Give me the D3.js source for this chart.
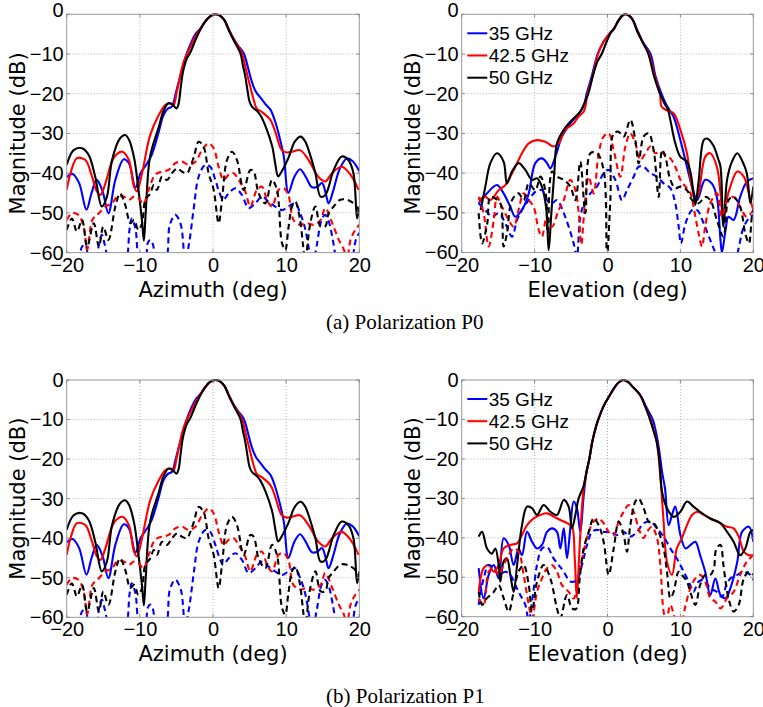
<!DOCTYPE html>
<html><head><meta charset="utf-8">
<script src="https://cdn.jsdelivr.net/npm/d3@7"></script>
<style>body{margin:0;background:#fff}svg{display:block}</style>
</head><body>
<svg id="c" width="763" height="707"></svg>
<script>
// ---------------- data ----------------
const xTicks = [-20, -10, 0, 10, 20];
const yTicks = [0, -10, -20, -30, -40, -50, -60];
const freqLabels = ["35 GHz", "42.5 GHz", "50 GHz"];
const captions = ["(a) Polarization P0", "(b) Polarization P1"];
const xLabels = ["Azimuth (deg)", "Elevation (deg)"];
const yLabel = "Magnitude (dB)";

// Azimuth cuts (identical for P0 and P1) – co-polar (solid)
const azCo35 = [[-20,-41],[-19.2,-40.2],[-18.3,-42.5],[-17.3,-49.2],[-16.6,-45],[-15.9,-41.7],[-15.1,-44.5],[-14.3,-50.1],[-13.35,-41.7],[-12.2,-36.5],[-11.5,-37.5],[-10.6,-43.6],[-9.9,-40],[-9,-37.5],[-8.4,-35.5],[-7.4,-29.5],[-6.8,-25.5],[-6.2,-23.8],[-5.6,-23.2],[-5.17,-20.5],[-4.8,-17.8],[-4.48,-15.7],[-4.0,-12.3],[-3.57,-9.8],[-3.0,-7.2],[-2.4,-5],[-1.74,-3.6],[-1.1,-1.9],[-0.4,-0.5],[0.3,0],[1.0,-0.4],[1.6,-1.6],[2.14,-3.7],[2.7,-5.8],[3.4,-7.8],[4.2,-9.8],[4.7,-12.8],[5.1,-15.7],[5.5,-18],[5.9,-19.6],[6.5,-21],[7.16,-22.6],[7.85,-24],[8.5,-27],[9.1,-31],[9.68,-35.8],[10.3,-45],[11.1,-41],[11.9,-39],[12.7,-41],[13.5,-43.5],[14.2,-43.5],[14.9,-42.5],[15.4,-45],[15.8,-47.6],[16.5,-44],[17.3,-39],[18.3,-36.3],[19.1,-37],[20,-39.5]];
const azCo42 = [[-20,-44.2],[-19.4,-39.5],[-18.6,-36.2],[-17.45,-36.7],[-16.6,-40.5],[-15.9,-44.5],[-15.4,-45.5],[-14.7,-42.5],[-13.9,-37.5],[-13.35,-35.6],[-12.4,-34.6],[-11.5,-36.7],[-10.8,-43.4],[-10.4,-44.6],[-9.7,-40],[-8.6,-30.5],[-7.4,-25.3],[-6.5,-22.8],[-5.9,-22.4],[-5.4,-22.9],[-5.0,-20],[-4.6,-16.5],[-4.2,-13.2],[-3.8,-11],[-3.3,-9],[-2.6,-6.3],[-1.8,-3.8],[-1.1,-1.9],[-0.4,-0.5],[0.3,0],[1.0,-0.4],[1.6,-1.6],[2.14,-3.7],[3.0,-6.8],[3.95,-9.8],[4.4,-13],[4.75,-15.7],[5.2,-19],[5.6,-21.8],[6.0,-23.8],[6.7,-24.6],[7.85,-26.6],[8.5,-29.5],[9.4,-34.2],[10.1,-34.8],[10.8,-34.6],[11.9,-34.2],[13.07,-36.7],[14.4,-40.9],[15.35,-42.1],[16.26,-40],[17.6,-38.4],[18.8,-40.4],[19.9,-44.2]];
const azCo50 = [[-20,-37.9],[-19.05,-34.2],[-17.9,-33.7],[-17,-35.4],[-16.1,-40.9],[-15.2,-48.4],[-14.5,-45.9],[-13.8,-36.7],[-12.7,-31.2],[-12.0,-30.4],[-11.5,-31.5],[-10.8,-36],[-10.2,-44],[-9.7,-52],[-9.45,-57],[-9.2,-50],[-8.6,-35.8],[-7.4,-28.3],[-6.8,-24.5],[-6.1,-22.4],[-5.6,-22.6],[-5.0,-23.7],[-4.7,-22.5],[-4.45,-19],[-4.1,-14.5],[-3.6,-11.2],[-3.1,-9.6],[-2.4,-6.5],[-1.74,-3.9],[-1.1,-1.9],[-0.4,-0.5],[0.3,0],[1.0,-0.4],[1.6,-1.6],[2.14,-3.95],[2.9,-6.8],[3.74,-9.8],[4.1,-13],[4.42,-15.7],[4.7,-19],[5.0,-22],[5.34,-23.3],[6.0,-24.3],[6.5,-25.5],[7.2,-28.3],[8.1,-33.3],[8.5,-37.5],[8.9,-40.8],[9.4,-39.5],[10.3,-36.2],[11.2,-32],[12,-30.8],[12.6,-32],[13.07,-34.2],[14,-40],[14.7,-45.9],[15.35,-45.5],[16.5,-39.2],[17.6,-35.8],[18.5,-36.7],[19.2,-40],[19.7,-51.4],[20,-48.4]];
// Azimuth cuts – cross-polar (dashed)
const azX35 = [[-20,-66],[-18.4,-62],[-17.9,-58.5],[-17.45,-58],[-17.0,-62],[-16.2,-66],[-15.6,-58],[-15.2,-55.5],[-14.8,-58],[-14.3,-62],[-13,-68],[-11.8,-62],[-11.4,-54],[-11.1,-51.4],[-10.6,-54],[-10.0,-62],[-9.3,-62],[-8.9,-57.5],[-8.57,-56.8],[-8.2,-58],[-7.7,-63],[-6.5,-62],[-5.9,-53],[-5.15,-50.5],[-4.4,-53],[-3.8,-62],[-3.3,-58],[-2.6,-48.4],[-1.96,-40.9],[-1.05,-37.9],[-0.37,-38.4],[0.32,-41.7],[0.9,-45],[1.4,-46.7],[2.14,-45.1],[3.05,-43.8],[3.96,-45.5],[4.87,-48.8],[5.78,-47.6],[6.7,-45.9],[7.6,-47.2],[8.5,-48.4],[9.43,-49.3],[10.3,-48.4],[11.25,-47.6],[11.9,-50],[12.6,-54],[13.2,-60],[13.6,-63],[14.2,-58],[14.8,-52],[15.3,-50.5],[15.8,-52],[16.4,-57],[17,-63],[18,-67],[19,-62],[19.5,-57],[20,-55]];
const azX42 = [[-20,-51.8],[-19.3,-50.1],[-18.4,-50.5],[-17.7,-53.4],[-17.2,-59.3],[-16.9,-56],[-16.5,-51.8],[-15.6,-50.1],[-14.7,-48.4],[-13.8,-47.6],[-13.1,-45.9],[-12.2,-45.9],[-11.5,-46.7],[-10.8,-45.9],[-10.2,-46.3],[-9.5,-47.6],[-8.8,-44.2],[-7.9,-40.4],[-7,-39.6],[-6.1,-39.2],[-5.15,-37.5],[-4.24,-37.1],[-3.33,-37.9],[-2.4,-37.1],[-1.5,-34.2],[-0.6,-32.5],[0.09,-33.7],[0.77,-38.4],[1.46,-41.7],[2.14,-40.4],[2.82,-40],[3.5,-41.7],[4.4,-44.6],[5.1,-48.4],[6,-44.2],[6.7,-43.4],[7.38,-46.7],[8.06,-48.4],[8.97,-44.2],[9.66,-43.8],[10.3,-45.5],[11,-51.8],[11.9,-53],[12.8,-52.6],[13.8,-53],[14.7,-51.8],[15.35,-48.8],[16.3,-52.6],[17.2,-56.8],[17.9,-59.3],[18.3,-62],[18.8,-56.8],[19.45,-54.3],[20,-53]];
const azX50 = [[-20,-54.3],[-19.3,-51.4],[-18.6,-54.7],[-17.9,-51.8],[-17.2,-58.5],[-16.3,-52.6],[-15.6,-58.5],[-15,-53.5],[-14.3,-56.8],[-13.35,-48.4],[-12.7,-45.1],[-12,-48],[-11.3,-52.6],[-10.8,-51.8],[-10.2,-54.3],[-9.7,-52.6],[-9.25,-46.7],[-8.57,-45.1],[-8.1,-43],[-7.66,-44.2],[-6.97,-40.9],[-6.3,-41.7],[-5.6,-40],[-4.9,-38.8],[-4.24,-39.6],[-3.56,-40],[-3.1,-38.4],[-2.6,-35.8],[-1.96,-32.1],[-1.3,-33.3],[-0.6,-40],[0.09,-44.2],[0.77,-52.6],[1.23,-46.7],[1.91,-36.7],[2.6,-34.6],[3.28,-36.7],[4.19,-44.2],[5.1,-39.2],[5.56,-39.6],[6.24,-45.1],[7.15,-47.6],[8.06,-41.7],[8.74,-44.2],[9.43,-57.6],[9.88,-59.3],[10.3,-54],[10.8,-48.4],[11.25,-47.2],[11.9,-51.8],[12.3,-58],[12.6,-62],[13.3,-52.6],[14,-48.4],[14.7,-53.4],[15.35,-53.4],[15.8,-50.1],[16.5,-48.4],[17.4,-46.7],[18.3,-46.7],[19.2,-47.6],[20,-49.5]];

// Elevation cuts, polarization P0
const elP0Co35 = [[-17.67,-47.6],[-16.53,-45.1],[-15.16,-43],[-14.25,-45.1],[-13.33,-48.5],[-12.64,-51],[-11.5,-48.5],[-10.8,-45.1],[-9.9,-37.5],[-8.99,-36.3],[-8.3,-37.5],[-7.84,-38.8],[-7.16,-35.9],[-6.24,-30.8],[-5.1,-27.5],[-3.73,-24.5],[-3.2,-22.8],[-2.86,-20],[-2.17,-15.7],[-1.35,-10],[-0.5,-6.8],[0.3,-4.8],[0.8,-3.8],[1.5,-1.6],[2.0,-0.4],[2.4,0],[3.0,-0.4],[3.5,-1.5],[4.0,-3.6],[4.8,-6.8],[5.9,-10],[6.6,-15.7],[7.4,-20],[8.0,-22.5],[8.6,-24.4],[9.07,-25.8],[10,-31.7],[10.9,-38.4],[11.6,-43.4],[12.3,-46.8],[13.4,-41.7],[14.3,-42.6],[15,-46],[15.5,-56.9],[15.7,-60],[16.2,-54.3],[16.6,-51],[17.3,-51.8],[18.2,-46],[19.1,-42.2],[20,-41.3]];
const elP0Co42 = [[-17.67,-46.8],[-16.76,-46],[-16.07,-46.8],[-14.93,-44.3],[-14,-43],[-13.33,-40.9],[-12.64,-38.4],[-11.73,-35],[-10.8,-32.5],[-9.67,-31.7],[-8.53,-32.1],[-7.4,-33.3],[-6.7,-32.5],[-6,-29.6],[-5.56,-28.7],[-4.64,-27.5],[-4.0,-25.8],[-3.3,-24.6],[-3.0,-23],[-2.8,-20.5],[-2.1,-16],[-1.3,-10],[-0.5,-6.8],[0.3,-4.8],[0.8,-3.9],[1.5,-1.6],[2.0,-0.4],[2.4,0],[3.0,-0.4],[3.5,-1.5],[4.0,-3.9],[4.8,-7],[5.7,-10],[6.5,-15.7],[7.2,-20],[7.43,-23.3],[8.16,-24.2],[9.07,-24.9],[10,-29.1],[10.9,-35],[11.4,-41.7],[12.05,-46.8],[12.5,-45.1],[13.4,-35.9],[14.1,-35],[15,-38.4],[15.5,-45],[15.85,-52],[16.3,-47],[16.85,-43.4],[17.8,-39.6],[18.7,-40.9],[19.6,-46.8],[20,-49.3]];
const elP0Co50 = [[-17.4,-49.3],[-16.76,-43.4],[-16.07,-37.5],[-15.16,-35],[-14.25,-37.1],[-13.8,-42.6],[-13.1,-39.6],[-12.2,-37.5],[-11.27,-39.2],[-10.35,-41.7],[-9.67,-41.3],[-9.0,-43.4],[-8.4,-49],[-8.07,-59.4],[-7.7,-50],[-7.3,-40],[-6.93,-32.5],[-6.0,-29.1],[-4.87,-26.6],[-3.73,-24.5],[-3.2,-22.5],[-2.63,-20],[-2.0,-15.5],[-1.4,-12],[-0.8,-10],[-0.1,-6.8],[0.5,-4.5],[0.9,-3.6],[1.5,-1.6],[2.0,-0.4],[2.4,0],[3.0,-0.4],[3.5,-1.5],[4.0,-3.9],[4.8,-7],[5.6,-10],[6.4,-15.7],[7.2,-20],[7.8,-22.4],[8.3,-24.1],[8.62,-26.6],[9.3,-32.5],[10,-35.9],[10.9,-37.1],[11.4,-40],[11.8,-45],[12.05,-48],[12.5,-42],[13.2,-31.7],[13.65,-31.3],[14.5,-33],[15.2,-36.5],[15.5,-38.4],[15.9,-53.5],[16.4,-41.7],[17.1,-37],[17.8,-35],[18.5,-37],[19.1,-40],[19.6,-47.6],[20,-43.4]];
const elP0X35 = [[-17.67,-47.6],[-16.76,-49.3],[-15.85,-51],[-14.93,-50.1],[-13.8,-53.5],[-13.1,-56],[-12.4,-51.8],[-11.73,-49.3],[-10.8,-46.8],[-9.9,-44.7],[-8.99,-44.3],[-8.3,-46.8],[-7.6,-47.6],[-6.93,-46.8],[-6,-50.1],[-5.33,-53.5],[-4.64,-57.7],[-4.2,-61],[-3.73,-51],[-3.04,-46.8],[-2.35,-45.1],[-1.44,-43.4],[-0.53,-40],[0.16,-39.2],[1.07,-41.7],[1.99,-46.8],[2.67,-44.3],[3.59,-40.9],[4.27,-38.4],[4.96,-38.4],[5.87,-40],[6.79,-40.9],[7.7,-42.6],[8.62,-43.8],[9.3,-47.6],[9.76,-53.5],[10.08,-57.7],[10.7,-52.7],[11.6,-49.3],[12.3,-49.3],[13.2,-52.7],[14.1,-56.9],[15,-61],[16,-66],[17.5,-62],[18.7,-53.5],[19.6,-51],[20,-50.6]];
const elP0X42 = [[-17.67,-46],[-16.99,-50.1],[-16.3,-58.5],[-15.6,-51.8],[-15.16,-46],[-14.47,-48.5],[-13.56,-51.8],[-12.87,-53.5],[-12.2,-49.3],[-11.5,-45.1],[-10.8,-46.8],[-10.13,-48.5],[-9.44,-54.3],[-9,-56],[-8.3,-51],[-7.6,-53.5],[-6.7,-49.3],[-6,-46.8],[-5.1,-41.7],[-4.4,-44.3],[-3.95,-50],[-3.6,-58],[-3.2,-50],[-2.58,-40.9],[-1.9,-45.1],[-1.21,-35],[-0.53,-30.8],[0.16,-30],[0.85,-34.2],[1.76,-40.9],[2.45,-33.3],[3.13,-30],[3.82,-32.5],[4.5,-36.7],[5.2,-35],[5.9,-33.3],[6.56,-35],[7.25,-34.6],[7.93,-35.4],[8.62,-36.3],[9.3,-38.4],[10,-41.7],[10.7,-43.4],[11.4,-45.1],[11.8,-48.5],[12.5,-55.2],[12.96,-58.5],[13.4,-53.5],[14.1,-47.6],[15,-45.1],[15.7,-51],[16.4,-46.8],[17.3,-46],[18.2,-48.5],[19.1,-51],[20,-49.3]];
const elP0X50 = [[-17.67,-50.1],[-17.2,-57.7],[-16.5,-52.7],[-16.07,-46],[-15.4,-46.4],[-14.7,-47.6],[-14.25,-58.5],[-13.8,-55.2],[-13.1,-46.8],[-12.2,-45.1],[-11.5,-46.8],[-10.8,-42.6],[-9.9,-44.3],[-9.2,-40.9],[-8.53,-44.3],[-8.2,-55.2],[-7.6,-39.6],[-6.93,-40.9],[-6,-41.7],[-5.1,-43.4],[-4.41,-46.8],[-3.73,-37.1],[-3.04,-50.1],[-2.35,-35],[-1.44,-35],[-0.53,-39.2],[-0.07,-61],[0.39,-46.8],[0.85,-30],[1.53,-29.6],[2.22,-30.8],[3.13,-26.6],[3.82,-31.7],[4.27,-37.5],[4.96,-30.8],[5.65,-30],[6.33,-34.2],[7.02,-46],[7.48,-34.2],[7.93,-35.9],[8.62,-41.7],[9.3,-43.8],[10,-43.4],[10.9,-44.3],[11.6,-46.8],[12.5,-47.6],[13.4,-46],[14.1,-46.8],[15,-51.8],[15.9,-56],[16.6,-46.8],[17.3,-46],[18.2,-48.5],[18.9,-55.2],[19.4,-57.7],[19.8,-51],[20,-49.3]];

// Elevation cuts, polarization P1
const elP1Co35 = [[-17.67,-47.7],[-16.99,-55.4],[-16.3,-49.4],[-15.6,-46.9],[-14.93,-50.3],[-14.25,-40.1],[-13.56,-41.8],[-12.87,-46.9],[-12.2,-42.7],[-11.73,-44.4],[-11.04,-38.5],[-10.35,-41],[-9.67,-42.7],[-8.99,-41.8],[-8.3,-38.5],[-7.6,-37.6],[-6.93,-38.5],[-6.47,-42.7],[-6.0,-37.6],[-5.56,-45.2],[-5.1,-37.6],[-4.64,-30.8],[-4.2,-32.5],[-3.73,-38.5],[-3.3,-30],[-2.9,-23.5],[-2.49,-20],[-2.08,-15.6],[-1.6,-12],[-1.26,-10],[-0.5,-6.5],[0.34,-3.8],[1.0,-1.8],[1.6,-0.5],[2.2,0],[2.8,-0.5],[3.5,-1.8],[4.5,-3.8],[5.3,-6.8],[6.2,-10],[6.6,-12.8],[6.9,-15.6],[7.25,-20],[7.5,-23.5],[7.89,-27.5],[8.39,-36.8],[8.85,-34.2],[9.3,-32.1],[10,-39.3],[10.7,-42.7],[11.4,-41.8],[12.05,-41],[12.7,-44.4],[13.4,-48.6],[14.1,-54.5],[14.8,-50.3],[15.5,-54.5],[16.2,-55.3],[16.85,-52.8],[17.8,-46.1],[18.45,-38.5],[19.4,-37.2],[20,-41]];
const elP1Co42 = [[-17.67,-53.7],[-16.99,-47.7],[-16.3,-46.9],[-15.6,-48.6],[-14.93,-46.9],[-14.25,-42.7],[-13.33,-41.8],[-12.4,-41.4],[-11.73,-39.3],[-11.04,-36.8],[-10.13,-35.1],[-9.2,-34.2],[-8.3,-33.8],[-7.4,-34.6],[-6.47,-35.5],[-5.56,-36.3],[-4.87,-37.2],[-4.5,-45],[-4.2,-55.3],[-3.9,-45],[-3.6,-35],[-3.3,-28],[-2.9,-23.5],[-2.49,-20],[-2.08,-15.6],[-1.6,-12],[-1.26,-10],[-0.5,-6.5],[0.34,-3.8],[1.0,-1.8],[1.6,-0.5],[2.2,0],[2.8,-0.5],[3.5,-1.8],[4.46,-3.8],[5.2,-6.8],[5.9,-10],[6.35,-12.8],[6.74,-15.6],[7.05,-20],[7.2,-23.5],[7.4,-28],[7.7,-36],[8.16,-46.1],[8.85,-49.4],[9.5,-42.7],[10.2,-40.1],[10.9,-36.8],[11.6,-34.2],[12.3,-33.4],[13.2,-34.2],[14.1,-35.1],[15.5,-36.3],[16.4,-37.2],[17.3,-37.6],[18,-39.7],[18.7,-43.5],[19.4,-44.4],[20,-44.4]];
const elP1Co50 = [[-17.67,-39.7],[-17.2,-38.5],[-16.53,-42.7],[-15.85,-44],[-15.39,-42.7],[-14.93,-46.9],[-14.7,-51.1],[-14.25,-46],[-13.8,-45.2],[-13.33,-49.4],[-12.87,-53.7],[-12.4,-46.9],[-11.73,-36.8],[-11.04,-32.1],[-10.35,-32.5],[-9.67,-34.2],[-8.76,-31.7],[-7.84,-33.4],[-6.93,-34.2],[-6.0,-30.4],[-5.33,-32.1],[-4.87,-37.6],[-4.41,-34.2],[-3.96,-30],[-3.3,-27],[-2.9,-23.5],[-2.49,-20],[-2.08,-15.6],[-1.6,-12],[-1.26,-10],[-0.5,-6.5],[0.34,-3.8],[1.0,-1.8],[1.6,-0.5],[2.2,0],[2.8,-0.5],[3.5,-1.8],[4.46,-3.8],[5.2,-6.8],[5.83,-10],[6.3,-12.8],[6.74,-15.6],[7.1,-20],[7.25,-23.5],[7.48,-28.3],[8.16,-32.5],[9.07,-34.7],[10,-33.4],[10.9,-30.8],[11.8,-32.1],[12.7,-33.4],[14.1,-35.1],[15.5,-36.3],[16.4,-38.5],[17.3,-41],[18.2,-44.4],[18.9,-42.7],[19.6,-38.5],[20,-38]];
const elP1X35 = [[-17.67,-57],[-16.99,-50.3],[-16.3,-46.9],[-15.6,-47.7],[-14.93,-49.4],[-14,-48.6],[-13.33,-49.4],[-12.64,-52],[-11.96,-54.5],[-11.27,-57],[-10.8,-61],[-10.2,-54],[-9.67,-46.9],[-8.99,-42.7],[-8.3,-42.3],[-7.4,-45.2],[-6.7,-46.9],[-6,-48.6],[-5.1,-51.1],[-4.2,-50.7],[-3.5,-46.9],[-2.81,-41.8],[-2.13,-38.5],[-1.44,-38],[-0.53,-38.5],[0.39,-38.5],[1.3,-39.3],[2.22,-38.5],[3.13,-39.7],[4.05,-38.5],[4.96,-36.3],[5.87,-35.9],[6.79,-37.6],[7.7,-39.7],[8.62,-42.7],[9.5,-45.2],[10.45,-48.6],[11.36,-52],[11.8,-53.7],[12.5,-51.1],[13.2,-50.7],[14.1,-52.8],[15,-53.7],[15.7,-55],[16.3,-52],[16.85,-50.3],[17.8,-49.4],[18.7,-48.6],[19.6,-49.4],[20,-50.7]];
const elP1X42 = [[-17.67,-55.4],[-16.99,-57],[-16.3,-48.6],[-15.6,-47.7],[-14.93,-49.4],[-14.25,-46.9],[-13.56,-44.4],[-12.87,-42.7],[-12.2,-43.5],[-11.5,-49.4],[-10.8,-57],[-10.35,-60.4],[-9.67,-53.7],[-8.99,-50.3],[-8.3,-47.7],[-7.6,-46.9],[-6.93,-48.6],[-6.24,-52],[-5.33,-53.7],[-4.64,-55.4],[-3.96,-49.4],[-3.27,-43.5],[-2.58,-38.5],[-1.9,-35.9],[-1.21,-35.1],[-0.53,-36.3],[0.16,-38.5],[0.85,-39.3],[1.53,-35.9],[2.22,-33.4],[2.9,-31.7],[3.59,-33.4],[4.27,-37.6],[4.96,-40.1],[5.42,-38.5],[6.1,-37.2],[6.79,-40.1],[7.25,-46.9],[7.7,-58.7],[8.07,-61],[8.62,-57],[9.3,-61],[9.9,-64],[10.6,-58],[11.36,-52.8],[12.05,-50.3],[12.7,-49.4],[13.4,-51.1],[14.1,-55.3],[14.8,-56.2],[15.5,-57.9],[16.4,-55.3],[17.3,-53.7],[18.2,-49.4],[19.1,-46.1],[20,-44.4]];
const elP1X50 = [[-17.67,-53.7],[-17.2,-57],[-16.53,-55.3],[-15.6,-53.7],[-14.93,-52],[-14.25,-55.3],[-13.56,-58.7],[-12.87,-53.7],[-12.2,-48.6],[-11.5,-46.9],[-10.8,-52],[-10.35,-58.7],[-9.67,-51.1],[-8.76,-46.9],[-7.84,-50.3],[-6.93,-57.9],[-6.47,-60.4],[-5.56,-54.5],[-4.87,-57.9],[-4.3,-58],[-3.8,-50],[-3.27,-42.7],[-2.58,-38.5],[-1.9,-35.1],[-1.21,-36.8],[-0.53,-41],[0.16,-49.4],[0.85,-42.7],[1.53,-35.9],[2.22,-39.3],[2.67,-43.5],[3.13,-36.8],[3.82,-30.8],[4.27,-30],[4.96,-32.5],[5.65,-35.9],[6.33,-36.3],[7.02,-38.5],[7.7,-42.7],[8.16,-48.6],[8.62,-55.3],[9.07,-53.7],[9.76,-48.6],[10.2,-49.4],[10.9,-51.1],[11.36,-53.7],[12.05,-57],[12.7,-52],[13.4,-49.4],[14.1,-49.4],[14.6,-47.7],[14.9,-43],[15.5,-41.8],[15.9,-46.9],[16.6,-55.3],[17.3,-58.7],[18,-57],[18.7,-50.3],[19.4,-48.6],[20,-49.4]];

// ---------------- drawing ----------------
const colors = ["#0000ff", "#ff0000", "#000000"];
const tickFont = "'Liberation Sans', Arial, sans-serif";
const labelFont = "'DejaVu Sans', sans-serif";
const svg = d3.select("#c");

const panels = [
  {box:[66.7,359.3,14.3,252.6], xl:xLabels[0], co:[azCo35,azCo42,azCo50], cx:[azX35,azX42,azX50], legend:false, top:true},
  {box:[461.7,753.3,14.3,252.5], xl:xLabels[1], co:[elP0Co35,elP0Co42,elP0Co50], cx:[elP0X35,elP0X42,elP0X50], legend:true, top:true},
  {box:[66.7,359.3,380,617.3], xl:xLabels[0], co:[azCo35,azCo42,azCo50], cx:[azX35,azX42,azX50], legend:false, top:false},
  {box:[461.7,753.3,380,616.7], xl:xLabels[1], co:[elP1Co35,elP1Co42,elP1Co50], cx:[elP1X35,elP1X42,elP1X50], legend:true, top:false}
];

panels.forEach((p, idx) => {
  const [x0, x1, y0, y1] = p.box;
  const xs = d3.scaleLinear().domain([xTicks[0], xTicks[xTicks.length-1]]).range([x0, x1]);
  const ys = d3.scaleLinear().domain([yTicks[yTicks.length-1], yTicks[0]]).range([y1, y0]);
  const g = svg.append("g");

  // grid
  g.append("g").selectAll("line").data(xTicks.slice(1, -1)).join("line")
    .attr("x1", d => xs(d)).attr("x2", d => xs(d)).attr("y1", y0).attr("y2", y1)
    .attr("stroke", "#b0b0b0").attr("stroke-width", 1).attr("stroke-dasharray", "1,2");
  g.append("g").selectAll("line").data(yTicks.slice(1, -1)).join("line")
    .attr("y1", d => ys(d)).attr("y2", d => ys(d)).attr("x1", x0).attr("x2", x1)
    .attr("stroke", "#b0b0b0").attr("stroke-width", 1).attr("stroke-dasharray", "1,2");

  // clip
  const cid = "clip" + idx;
  svg.append("defs").append("clipPath").attr("id", cid).append("rect")
    .attr("x", x0).attr("y", y0 - 1).attr("width", x1 - x0).attr("height", y1 - y0 + 1);

  const line = d3.line().x(d => xs(d[0])).y(d => ys(d[1])).curve(d3.curveCatmullRom.alpha(0.5));
  const lg = g.append("g").attr("clip-path", `url(#${cid})`);
  p.co.forEach((s, k) => lg.append("path").datum(s).attr("d", line)
    .attr("fill", "none").attr("stroke", colors[k]).attr("stroke-width", 2.1).attr("stroke-linejoin", "round"));
  p.cx.forEach((s, k) => lg.append("path").datum(s).attr("d", line)
    .attr("fill", "none").attr("stroke", colors[k]).attr("stroke-width", 2.1).attr("stroke-dasharray", "6,4"));

  // box
  g.append("rect").attr("x", x0).attr("y", y0).attr("width", x1 - x0).attr("height", y1 - y0)
    .attr("fill", "none").attr("stroke", "#999").attr("stroke-width", 1);

  // inward ticks
  const tk = g.append("g").attr("stroke", "#888").attr("stroke-width", 1);
  xTicks.forEach(t => {
    tk.append("line").attr("x1", xs(t)).attr("x2", xs(t)).attr("y1", y1).attr("y2", y1 - 3);
    tk.append("line").attr("x1", xs(t)).attr("x2", xs(t)).attr("y1", y0).attr("y2", y0 + 3);
  });
  yTicks.forEach(t => {
    tk.append("line").attr("y1", ys(t)).attr("y2", ys(t)).attr("x1", x0).attr("x2", x0 + 3);
    tk.append("line").attr("y1", ys(t)).attr("y2", ys(t)).attr("x1", x1).attr("x2", x1 - 3);
  });

  // axes labels
  const ax = g.append("g").attr("transform", `translate(0,${y1})`)
    .call(d3.axisBottom(xs).tickValues(xTicks).tickSize(0).tickPadding(5).tickFormat(d3.format("d")));
  ax.select(".domain").remove();
  ax.selectAll("text").attr("font-family", tickFont).attr("font-size", 20).attr("fill", "#000");

  const ay = g.append("g").attr("transform", `translate(${x0},0)`)
    .call(d3.axisLeft(ys).tickValues(yTicks).tickSize(0).tickPadding(3).tickFormat(d3.format("d")));
  ay.select(".domain").remove();
  ay.selectAll("text").attr("font-family", tickFont).attr("font-size", 20).attr("fill", "#000");
  if (p.top) ay.selectAll("text").filter(d => d === 0).attr("dy", "0.12em");

  g.append("text").attr("x", (x0 + x1) / 2).attr("y", y1 + 44).attr("text-anchor", "middle")
    .attr("font-family", labelFont).attr("font-size", 21).text(p.xl);
  g.append("text").attr("transform", `translate(${x0 - 41.5},${(y0 + y1) / 2}) rotate(-90)`)
    .attr("text-anchor", "middle").attr("font-family", labelFont).attr("font-size", 21).text(yLabel);

  if (p.legend) {
    const lgd = g.append("g");
    freqLabels.forEach((f, k) => {
      const yy = y0 + 19 + k * 22.2;
      lgd.append("line").attr("x1", x0 + 5.6).attr("x2", x0 + 25.6).attr("y1", yy).attr("y2", yy)
        .attr("stroke", colors[k]).attr("stroke-width", 2);
      lgd.append("text").attr("x", x0 + 27).attr("y", yy).attr("dy", "0.35em")
        .attr("font-family", tickFont).attr("font-size", 19).text(f);
    });
  }
});

// captions
[329, 703].forEach((yy, i) => {
  svg.append("text").attr("x", 326).attr("y", yy)
    .attr("font-family", "'Liberation Serif', 'Times New Roman', serif").attr("font-size", 21).text(captions[i]);
});
</script>
</body></html>
